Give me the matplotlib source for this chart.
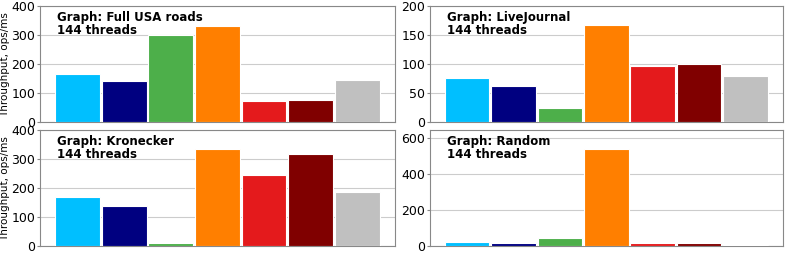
import matplotlib
matplotlib.use("Agg")
from matplotlib import pyplot as plt

graphs = ["Full USA roads", "LiveJournal", "Kronecker", "Random"]
colors = ["#00BFFF", "#000080", "#4DAF4A", "#FF7F00", "#E41A1C", "#800000", "#C0C0C0"]

usa = [168, 143, 302, 332, 73, 76, 145]
livejournal = [76, 63, 24, 167, 97, 100, 79]
kronecker = [168, 138, 9, 337, 246, 317, 186]
random_graph = [20, 15, 45, 537, 18, 16, 8]

series = [usa, livejournal, kronecker, random_graph]
ylims = [400, 200, 400, 640]
yticks = [[0, 100, 200, 300, 400], [0, 50, 100, 150, 200],
          [0, 100, 200, 300, 400], [0, 200, 400, 600]]

fig = plt.figure(figsize=(7.89, 2.56), dpi=100)
boxes = [(0.051, 0.523, 0.449, 0.452), (0.545, 0.523, 0.447, 0.452),
         (0.051, 0.039, 0.449, 0.452), (0.545, 0.039, 0.447, 0.452)]

for i in range(4):
    ax = fig.add_axes(boxes[i])
    x = range(len(series[i]))
    ax.bar(x, series[i], width=0.96, color=colors, edgecolor="white", linewidth=0.8, zorder=3)
    ax.set_xlim(-0.8, 6.8)
    ax.set_ylim(0, ylims[i])
    ax.set_yticks(yticks[i])
    ax.set_xticks([])
    ax.grid(axis="y", color="#cccccc", linewidth=0.8, zorder=0)
    for s in ax.spines.values():
        s.set_color("#888888")
    ax.tick_params(axis="y", labelsize=9, length=2, color="#888888", pad=1.5)
    ax.text(0.048, 0.96, "Graph: " + graphs[i] + "\n144 threads", transform=ax.transAxes,
            fontsize=8.5, fontweight="bold", va="top", ha="left", linespacing=1.0)
    if i % 2 == 0:
        ax.set_ylabel("Throughput, ops/ms", fontsize=7.5, labelpad=1)

fig.savefig("out.png", dpi=100)
